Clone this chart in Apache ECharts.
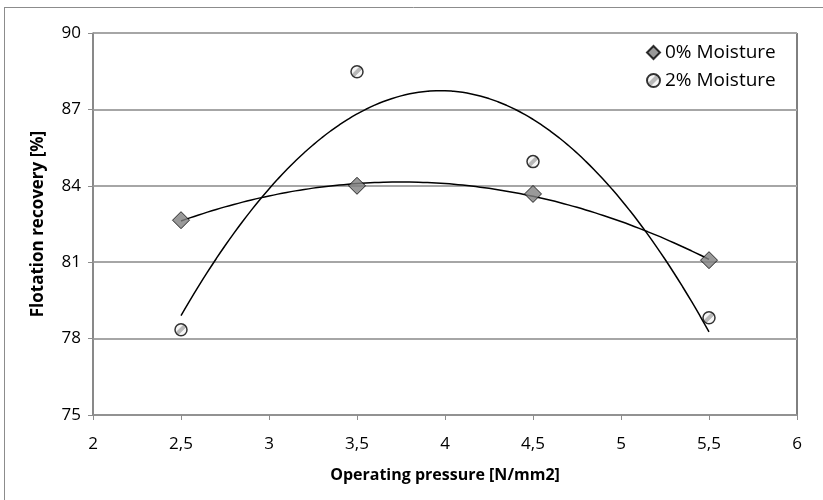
<!DOCTYPE html>
<html>
<head>
<meta charset="utf-8">
<script src="https://cdn.jsdelivr.net/npm/echarts@6/dist/echarts.min.js"></script>
<style>
  html, body { margin: 0; padding: 0; background: #fff; }
  #chart { width: 823px; height: 500px; }
</style>
</head>
<body>
<div id="chart"></div>
<script>
// values
const pressure = [2.5, 3.5, 4.5, 5.5];
const moisture0 = [82.65, 84.0, 83.68, 81.08];
const moisture2 = [78.35, 88.48, 84.95, 78.82];
const seriesNames = ['0% Moisture', '2% Moisture'];

// 2nd order polynomial trendline (least squares), like the spreadsheet one
function polyFit(xs, ys) {
    let n = xs.length, sx = 0, sx2 = 0, sx3 = 0, sx4 = 0, sy = 0, sxy = 0, sx2y = 0;
    for (let i = 0; i < n; i++) {
        const x = xs[i], y = ys[i];
        sx += x; sx2 += x * x; sx3 += x * x * x; sx4 += x * x * x * x;
        sy += y; sxy += x * y; sx2y += x * x * y;
    }
    // solve 3x3 with Cramer's rule
    const m = [[n, sx, sx2], [sx, sx2, sx3], [sx2, sx3, sx4]];
    const r = [sy, sxy, sx2y];
    const det = a => a[0][0] * (a[1][1] * a[2][2] - a[1][2] * a[2][1])
                   - a[0][1] * (a[1][0] * a[2][2] - a[1][2] * a[2][0])
                   + a[0][2] * (a[1][0] * a[2][1] - a[1][1] * a[2][0]);
    const d = det(m);
    const coef = [0, 1, 2].map(k => det(m.map((row, i) => row.map((v, j) => j === k ? r[i] : v))) / d);
    return x => coef[0] + coef[1] * x + coef[2] * x * x;
}

function trend(xs, ys) {
    const f = polyFit(xs, ys);
    const out = [];
    const x0 = xs[0], x1 = xs[xs.length - 1];
    for (let i = 0; i <= 60; i++) {
        const x = x0 + (x1 - x0) * i / 60;
        out.push([x, f(x)]);
    }
    return out;
}

const font = '"Open Sans", "Liberation Sans", sans-serif';

const hatch = {
    type: 'linear', x: 0, y: 0, x2: 1, y2: 1,
    colorStops: [
        { offset: 0, color: '#ffffff' },
        { offset: 0.38, color: '#f2f2f2' },
        { offset: 0.42, color: '#a6a6a6' },
        { offset: 0.58, color: '#a6a6a6' },
        { offset: 0.62, color: '#f2f2f2' },
        { offset: 1, color: '#ffffff' }
    ]
};

const option = {
    animation: false,
    backgroundColor: '#fff',
    textStyle: { fontFamily: font },
    grid: {
        left: 93, right: 26, top: 33, bottom: 85,
        show: true, borderColor: '#000', borderWidth: 1
    },
    legend: {
        data: seriesNames,
        orient: 'vertical',
        left: 641, top: 38,
        itemWidth: 13, itemHeight: 13, itemGap: 9,
        textStyle: { fontSize: 19, color: '#000', fontFamily: font }
    },
    xAxis: {
        type: 'value', min: 2, max: 6, interval: 0.5,
        name: 'Operating pressure [N/mm2]',
        nameLocation: 'middle', nameGap: 52,
        nameTextStyle: { fontSize: 16, fontWeight: 'bold', color: '#000', fontFamily: font },
        axisLine: { show: true, lineStyle: { color: '#8c8c8c', width: 1.5 } },
        axisTick: { show: true, length: 5, lineStyle: { color: '#8c8c8c' } },
        axisLabel: { fontSize: 17, color: '#000', margin: 21, formatter: v => String(v).replace('.', ',') },
        splitLine: { show: false }
    },
    yAxis: {
        type: 'value', min: 75, max: 90, interval: 3,
        name: 'Flotation recovery [%]',
        nameLocation: 'middle', nameGap: 46, nameRotate: 90,
        nameTextStyle: { fontSize: 17, fontWeight: 'bold', color: '#000', fontFamily: font },
        axisLine: { show: true, lineStyle: { color: '#8c8c8c', width: 1.5 } },
        axisTick: { show: true, length: 5, lineStyle: { color: '#8c8c8c' } },
        axisLabel: { fontSize: 17, color: '#000', margin: 12 },
        splitLine: { show: true, lineStyle: { color: '#a6a6a6', width: 2 } }
    },
    graphic: [
        { type: 'line', shape: { x1: 4.5, y1: 7, x2: 4.5, y2: 500 }, style: { stroke: '#8c8c8c', lineWidth: 1 } },
        { type: 'line', shape: { x1: 4, y1: 7.5, x2: 823, y2: 7.5 }, style: { stroke: '#8c8c8c', lineWidth: 1 } }
    ],
    series: [
        {
            type: 'line', data: trend(pressure, moisture0), showSymbol: false, smooth: true,
            lineStyle: { color: '#000', width: 1.5 }, z: 2, silent: true
        },
        {
            type: 'line', data: trend(pressure, moisture2), showSymbol: false, smooth: true,
            lineStyle: { color: '#000', width: 1.5 }, z: 2, silent: true
        },
        {
            name: seriesNames[0], type: 'scatter', symbol: 'diamond', symbolSize: [17, 17],
            data: pressure.map((x, i) => [x, moisture0[i]]),
            itemStyle: { color: '#808080', borderColor: '#000', borderWidth: 1 }, z: 3
        },
        {
            name: seriesNames[1], type: 'scatter', symbol: 'circle', symbolSize: 12,
            data: pressure.map((x, i) => [x, moisture2[i]]),
            itemStyle: { color: hatch, borderColor: '#000', borderWidth: 1.5 }, z: 3
        }
    ]
};

const myChart = echarts.init(document.getElementById('chart'));
myChart.setOption(option);
</script>
</body>
</html>
